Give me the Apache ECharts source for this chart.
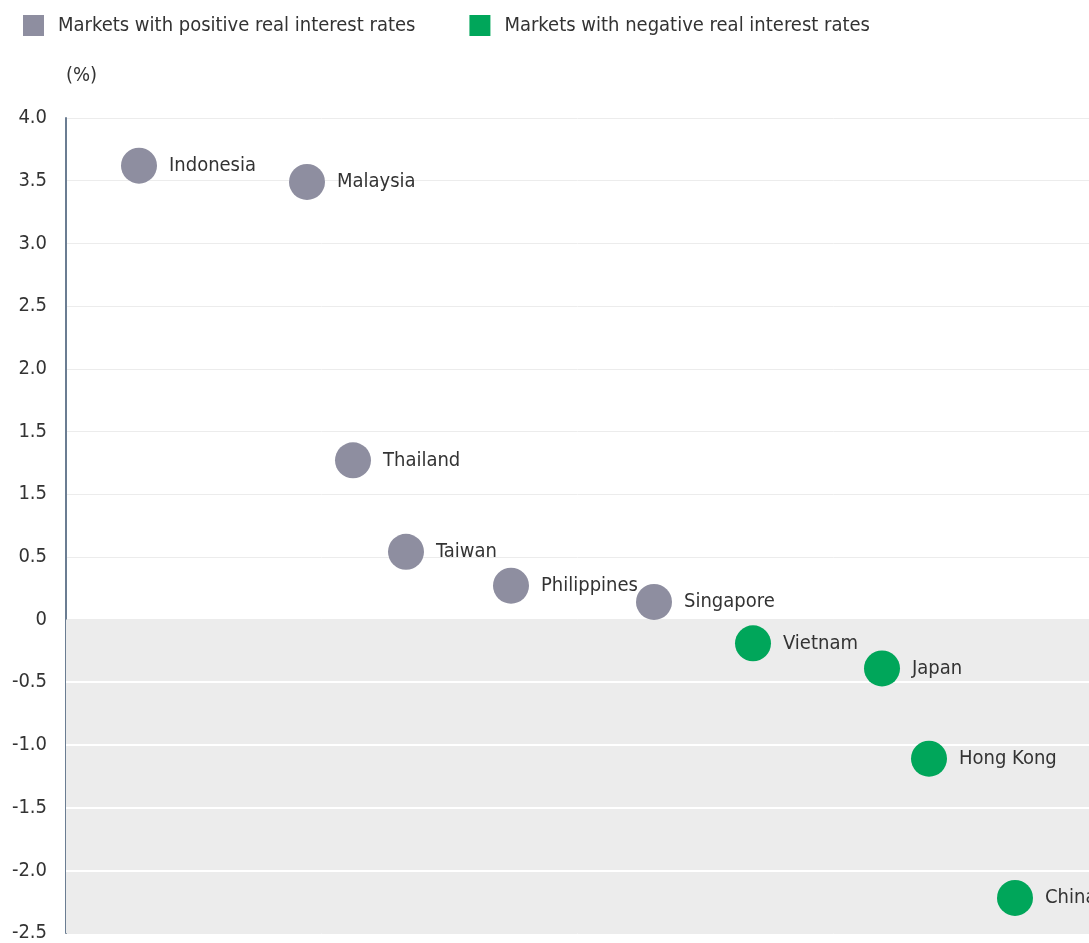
<!DOCTYPE html>
<html><head><meta charset="utf-8">
<script src="https://cdn.jsdelivr.net/npm/echarts@6/dist/echarts.min.js"></script>
<style>html,body{margin:0;padding:0;background:#fff}#c{width:1089px;height:943px}</style>
</head><body><div id="c"></div>
<script>
// Data
const countries = ["Indonesia","Malaysia","Thailand","Taiwan","Philippines","Singapore","Vietnam","Japan","Hong Kong","China"];
const xPos = [73, 241, 287, 340, 445, 588, 687, 816, 863, 949];
const rates = [3.62, 3.49, 1.27, 0.54, 0.27, 0.14, -0.19, -0.39, -1.11, -2.22];
const tickValues = [4.0,3.5,3.0,2.5,2.0,1.5,1.0,0.5,0,-0.5,-1.0,-1.5,-2.0,-2.5];
const tickLabels = ["4.0","3.5","3.0","2.5","2.0","1.5","1.5","0.5","0","-0.5","-1.0","-1.5","-2.0","-2.5"];
const legendNames = ["Markets with positive real interest rates","Markets with negative real interest rates"];

const FONT = '"Liberation Sans Narrow","DejaVu Sans Condensed","Roboto",sans-serif';
const GRAY = '#8e8ea0', GREEN = '#00a65a';
const labelMap = {};
tickValues.forEach((v,i)=>labelMap[v.toFixed(1)] = tickLabels[i]);

const pos = [], neg = [];
countries.forEach((c,i)=>{
  const p = {value:[xPos[i], rates[i]], name:c};
  (rates[i] >= 0 ? pos : neg).push(p);
});

const labelCfg = {show:true, position:'right', distance:12, formatter:p=>p.name,
  fontFamily:FONT, fontSize:20, color:'#333'};

const chart = echarts.init(document.getElementById('c'), null, {renderer:'canvas'});
chart.setOption({
  animation:false,
  legend:{top:10, left:18, itemWidth:21, itemHeight:21, itemGap:54, icon:'rect',
    textStyle:{fontFamily:FONT, fontSize:20, color:'#333', padding:[0,0,0,9]},
    data:legendNames},
  grid:{left:66, right:0, top:118, bottom:5},
  xAxis:{type:'value', min:0, max:1023, show:false},
  yAxis:{type:'value', min:-2.5, max:4, interval:0.5,
    name:'(%)', nameLocation:'end', nameGap:32,
    nameTextStyle:{fontFamily:FONT, fontSize:20, color:'#333', align:'left', padding:[0,0,0,0]},
    axisLine:{show:true, lineStyle:{color:'#6b7d92', width:2}},
    axisTick:{show:false},
    axisLabel:{fontFamily:FONT, fontSize:20, color:'#333', margin:19, padding:[0,0,4,0],
      formatter:v=>labelMap[Number(v).toFixed(1)] ?? String(v)},
    splitLine:{show:true, lineStyle:{color:'#ececec', width:1}}
  },
  series:[
    {name:legendNames[0], type:'scatter', symbolSize:36, itemStyle:{color:GRAY, opacity:1},
     data:pos, label:labelCfg, z:5,
     markArea:{silent:true, itemStyle:{color:'#ececec'}, data:[[{yAxis:0},{yAxis:-2.5}]]},
     markLine:{silent:true, symbol:'none', label:{show:false}, lineStyle:{color:'#ffffff', width:2, type:'solid'},
       data:[{yAxis:-0.5},{yAxis:-1.0},{yAxis:-1.5},{yAxis:-2.0}]}
    },
    {name:legendNames[1], type:'scatter', symbolSize:36, itemStyle:{color:GREEN, opacity:1},
     data:neg, label:labelCfg, z:5}
  ]
});
</script></body></html>
